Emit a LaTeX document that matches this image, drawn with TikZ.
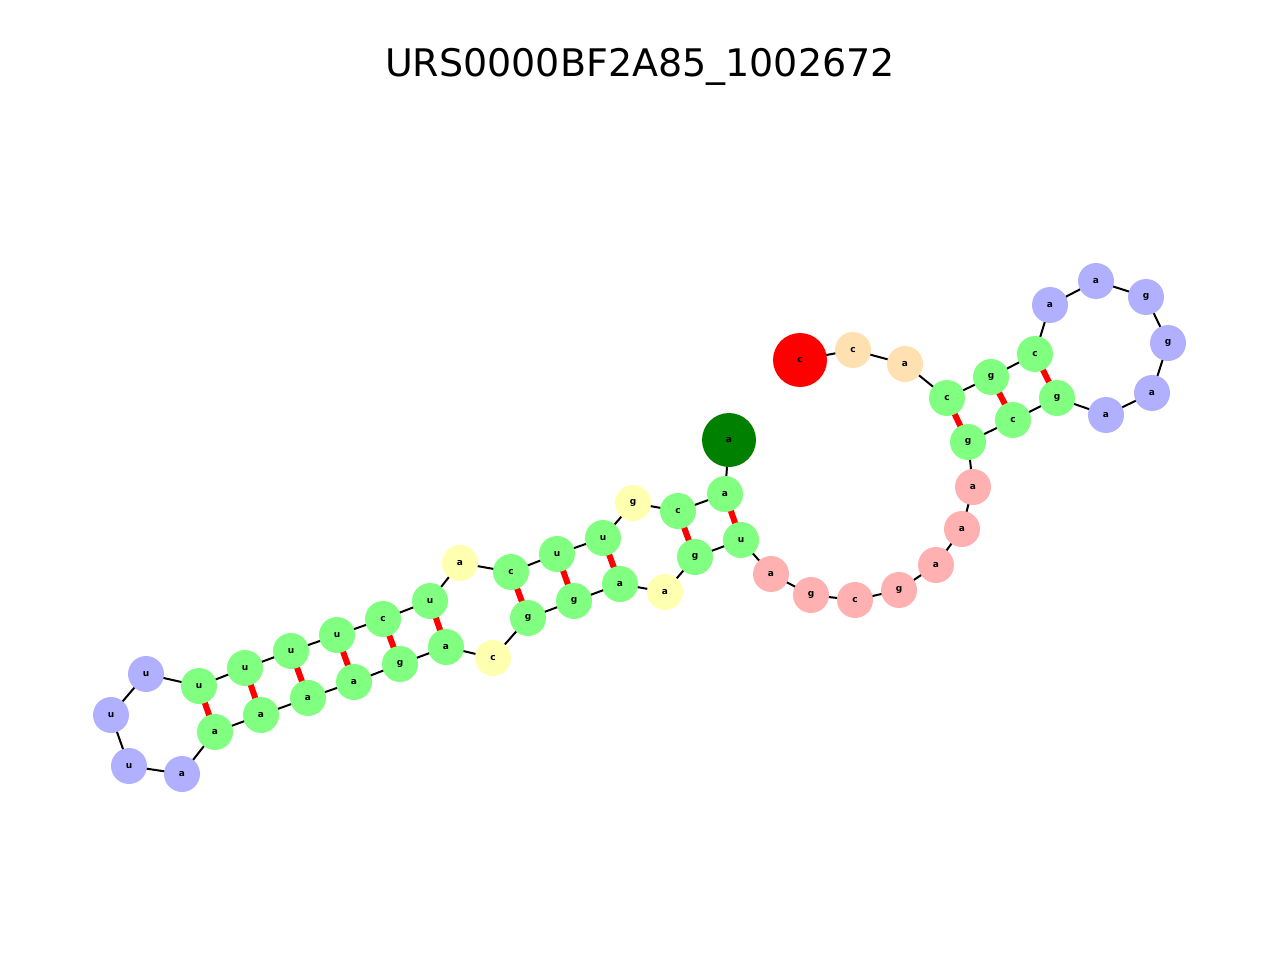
\documentclass[tikz,border=0pt]{standalone}
\usepackage{fontspec}
\setmainfont{DejaVu Sans}
\definecolor{stemgreen}{HTML}{80FF80}
\definecolor{loopyellow}{HTML}{FFFFB0}
\definecolor{loopblue}{HTML}{B0B0FF}
\definecolor{looppink}{HTML}{FFB0B0}
\definecolor{endorange}{HTML}{FFE0B0}
\tikzset{
  nt/.style={circle, minimum size=36pt, inner sep=0pt, font=\fontsize{9pt}{9pt}\bfseries},
  S/.style={nt, fill=stemgreen},
  Y/.style={nt, fill=loopyellow},
  B/.style={nt, fill=loopblue},
  P/.style={nt, fill=looppink},
  O/.style={nt, fill=endorange},
  st/.style={nt, minimum size=54pt, fill=green!50!black},
  en/.style={nt, minimum size=54pt, fill=red},
  backbone/.style={line width=2pt, black},
  basepair/.style={line width=6pt, red}
}
\begin{document}
\begin{tikzpicture}[x=1pt, y=-1pt]
\useasboundingbox (0,0) rectangle (1280,960);
\node[font=\fontsize{38pt}{38pt}\selectfont] (title) at (640,67) {URS0000BF2A85\_1002672};
% nucleotides
\foreach \i/\x/\y/\b/\s in {
  1/729/440/a/st, 2/725/494/a/S, 3/678/511/c/S, 4/633/503/g/Y, 5/603/538/u/S,
  6/557/554/u/S, 7/511/572/c/S, 8/460/563/a/Y, 9/430/601/u/S, 10/383/619/c/S,
  11/337/635/u/S, 12/291/651/u/S, 13/245/668/u/S, 14/199/686/u/S, 15/146/674/u/B,
  16/111/715/u/B, 17/129/766/u/B, 18/182/774/a/B, 19/215/732/a/S, 20/261/715/a/S,
  21/308/698/a/S, 22/354/682/a/S, 23/400/664/g/S, 24/446/647/a/S, 25/493/658/c/Y,
  26/528/618/g/S, 27/574/601/g/S, 28/620/584/a/S, 29/665/592/a/Y, 30/695/557/g/S,
  31/741/540/u/S, 32/771/574/a/P, 33/811/595/g/P, 34/855/600/c/P, 35/899/590/g/P,
  36/936/565/a/P, 37/962/529/a/P, 38/973/487/a/P, 39/968/442/g/S, 40/1013/420/c/S,
  41/1057/398/g/S, 42/1106/415/a/B, 43/1152/393/a/B, 44/1168/343/g/B, 45/1146/297/g/B,
  46/1096/281/a/B, 47/1050/305/a/B, 48/1035/354/c/S, 49/991/377/g/S, 50/947/398/c/S,
  51/905/364/a/O, 52/853/350/c/O, 53/800/360/c/en}
  \coordinate (p\i) at (\x,\y);
% backbone and base pairs
\foreach \i [evaluate=\i as \j using int(\i+1)] in {1,...,52}
  \draw[backbone] (p\i) -- (p\j);
\foreach \i/\j in {2/31,3/30,5/28,6/27,7/26,9/24,10/23,11/22,12/21,13/20,14/19,39/50,40/49,41/48}
  \draw[basepair] (p\i) -- (p\j);
\foreach \i/\x/\y/\b/\s in {
  1/729/440/a/st, 2/725/494/a/S, 3/678/511/c/S, 4/633/503/g/Y, 5/603/538/u/S,
  6/557/554/u/S, 7/511/572/c/S, 8/460/563/a/Y, 9/430/601/u/S, 10/383/619/c/S,
  11/337/635/u/S, 12/291/651/u/S, 13/245/668/u/S, 14/199/686/u/S, 15/146/674/u/B,
  16/111/715/u/B, 17/129/766/u/B, 18/182/774/a/B, 19/215/732/a/S, 20/261/715/a/S,
  21/308/698/a/S, 22/354/682/a/S, 23/400/664/g/S, 24/446/647/a/S, 25/493/658/c/Y,
  26/528/618/g/S, 27/574/601/g/S, 28/620/584/a/S, 29/665/592/a/Y, 30/695/557/g/S,
  31/741/540/u/S, 32/771/574/a/P, 33/811/595/g/P, 34/855/600/c/P, 35/899/590/g/P,
  36/936/565/a/P, 37/962/529/a/P, 38/973/487/a/P, 39/968/442/g/S, 40/1013/420/c/S,
  41/1057/398/g/S, 42/1106/415/a/B, 43/1152/393/a/B, 44/1168/343/g/B, 45/1146/297/g/B,
  46/1096/281/a/B, 47/1050/305/a/B, 48/1035/354/c/S, 49/991/377/g/S, 50/947/398/c/S,
  51/905/364/a/O, 52/853/350/c/O, 53/800/360/c/en}
  \node[\s] (n\i) at (p\i) {\b};
\end{tikzpicture}
\end{document}
